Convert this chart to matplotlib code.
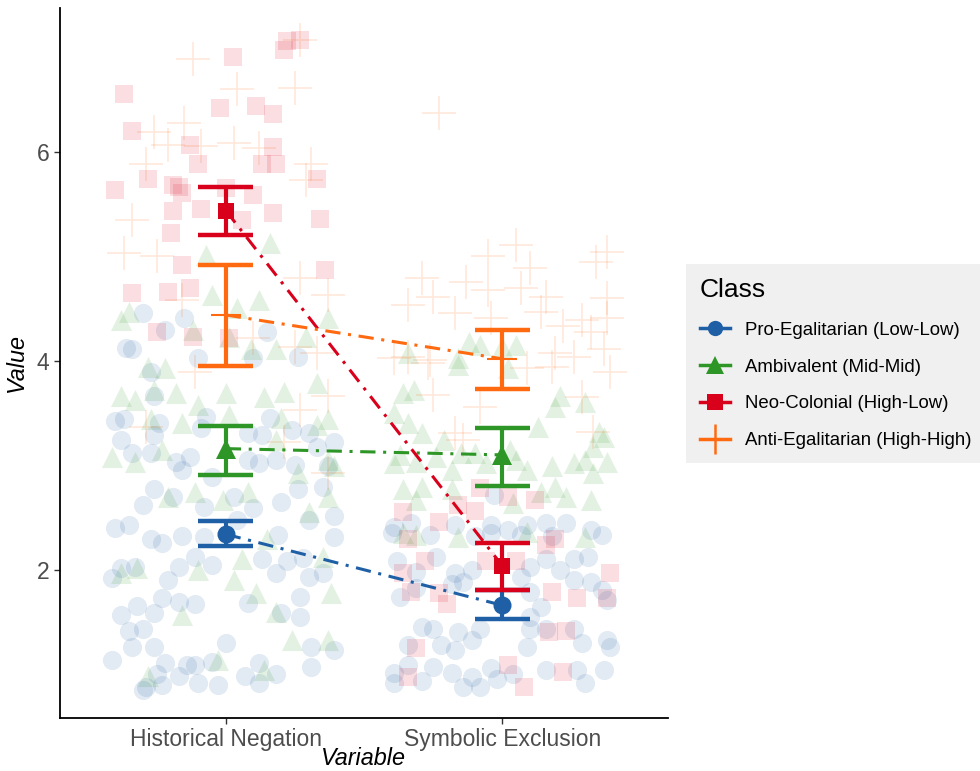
"""Class means of Historical Negation / Symbolic Exclusion over jittered raw scores."""

import matplotlib
matplotlib.use("Agg")
import matplotlib.pyplot as plt
import numpy as np
from matplotlib.lines import Line2D

plt.rcParams["font.family"] = ["Liberation Sans", "DejaVu Sans"]

# -- data ---------------------------------------------------------------------
variables = ["Historical Negation", "Symbolic Exclusion"]
classes = ["Pro-Egalitarian (Low-Low)", "Ambivalent (Mid-Mid)",
           "Neo-Colonial (High-Low)", "Anti-Egalitarian (High-High)"]

# means and error bar limits, one value per variable
pro_mean, pro_lo, pro_hi = [2.34, 1.66], [2.23, 1.53], [2.47, 1.81]
amb_mean, amb_lo, amb_hi = [3.16, 3.10], [2.91, 2.80], [3.38, 3.36]
neo_mean, neo_lo, neo_hi = [5.44, 2.04], [5.21, 1.81], [5.67, 2.26]
anti_mean, anti_lo, anti_hi = [4.44, 4.02], [3.95, 3.73], [4.92, 4.30]

# jittered raw scores: (offset from category, value)
pro_hn = [(-0.30, 4.46), (-0.15, 4.41), (-0.22, 4.30), (-0.36, 4.12), (-0.34, 4.11), (0.15, 4.28),
          (-0.10, 4.03), (0.10, 4.03), (0.26, 4.04), (-0.27, 3.89), (-0.40, 3.42), (-0.37, 3.44),
          (-0.26, 3.66), (-0.24, 3.41), (-0.38, 3.24), (-0.26, 3.29), (-0.34, 3.12), (-0.27, 3.12),
          (-0.13, 3.08), (-0.18, 3.03), (-0.16, 2.96), (-0.07, 3.46), (-0.09, 3.36), (0.16, 3.45),
          (0.08, 3.31), (0.13, 3.29), (0.24, 3.34), (0.30, 3.31), (0.39, 3.22), (0.33, 3.18),
          (0.12, 3.02), (0.18, 3.05), (0.25, 3.00), (0.37, 2.99), (0.08, 3.05), (-0.05, 2.89),
          (-0.26, 2.77), (-0.30, 2.62), (-0.19, 2.70), (-0.08, 2.60), (0.03, 2.70), (0.10, 2.59),
          (0.20, 2.65), (0.26, 2.77), (0.35, 2.79), (0.39, 2.51), (0.30, 2.48), (-0.40, 2.40),
          (-0.35, 2.43), (0.04, 2.48), (-0.27, 2.29), (-0.23, 2.26), (-0.16, 2.32), (-0.08, 2.31),
          (0.19, 2.33), (0.39, 2.31), (-0.38, 2.02), (-0.41, 1.92), (-0.33, 2.03), (-0.17, 2.03),
          (-0.11, 2.12), (-0.05, 2.05), (-0.21, 1.90), (0.13, 2.10), (0.18, 1.97), (0.22, 2.08),
          (0.30, 1.93), (0.35, 1.97), (0.28, 2.11), (-0.23, 1.73), (-0.17, 1.69), (-0.11, 1.67),
          (-0.32, 1.65), (-0.38, 1.57), (-0.26, 1.59), (0.08, 1.68), (0.20, 1.59), (0.27, 1.74),
          (0.27, 1.55), (-0.35, 1.41), (-0.30, 1.43), (-0.34, 1.26), (-0.26, 1.26), (0.00, 1.30),
          (0.31, 1.26), (0.39, 1.23), (-0.41, 1.14), (-0.22, 1.11), (-0.14, 1.09), (-0.11, 1.09),
          (-0.05, 1.12), (0.12, 1.11), (0.31, 1.07), (-0.25, 1.00), (-0.29, 0.88), (-0.23, 0.90),
          (-0.17, 0.98), (-0.10, 0.92), (-0.03, 0.90), (0.07, 0.98), (0.12, 0.92), (0.18, 1.00),
          (-0.30, 0.85)]
pro_se = [(-0.03, 2.72), (-0.39, 2.41), (-0.33, 2.45), (-0.17, 2.43), (-0.04, 2.43), (0.02, 2.38),
          (0.09, 2.43), (0.16, 2.45), (0.23, 2.45), (0.32, 2.38), (-0.40, 2.35), (-0.26, 2.33),
          (-0.10, 2.32), (-0.04, 2.35), (0.07, 2.33), (0.18, 2.32), (0.36, 2.33), (-0.38, 2.08),
          (-0.31, 1.98), (-0.24, 2.12), (-0.17, 1.97), (-0.11, 2.00), (-0.18, 1.86), (-0.14, 1.88),
          (-0.37, 1.74), (-0.31, 1.83), (0.07, 1.93), (0.10, 2.03), (0.16, 2.10), (0.21, 2.00),
          (0.26, 2.10), (0.31, 2.12), (0.26, 1.90), (0.32, 1.88), (0.36, 1.81), (0.38, 1.71),
          (0.10, 1.79), (0.14, 1.64), (0.10, 1.55), (-0.29, 1.45), (-0.25, 1.43), (-0.34, 1.28),
          (-0.22, 1.28), (-0.16, 1.40), (-0.11, 1.33), (-0.08, 1.43), (-0.17, 1.23), (0.10, 1.43),
          (0.16, 1.43), (0.26, 1.43), (0.29, 1.30), (0.09, 1.26), (0.38, 1.33), (0.39, 1.26),
          (-0.39, 1.01), (-0.34, 1.09), (-0.29, 0.93), (-0.25, 1.07), (-0.18, 1.01), (-0.11, 0.97),
          (-0.04, 1.06), (-0.02, 0.95), (0.04, 1.00), (0.16, 1.04), (0.27, 1.04), (0.37, 1.04),
          (0.30, 0.92), (-0.39, 0.92), (-0.08, 0.88), (-0.14, 0.88)]
amb_hn = [(0.16, 5.13), (-0.07, 5.01), (0.12, 4.58), (-0.05, 4.63), (0.04, 4.51), (-0.35, 4.47),
          (-0.38, 4.39), (-0.12, 4.30), (0.37, 4.41), (0.29, 4.23), (0.18, 4.11), (0.09, 4.11),
          (0.01, 4.23), (-0.28, 3.94), (-0.22, 3.93), (-0.38, 3.66), (-0.33, 3.63), (-0.26, 3.72),
          (-0.18, 3.69), (0.00, 3.69), (0.14, 3.65), (0.21, 3.70), (0.33, 3.79), (-0.10, 3.58),
          (-0.27, 3.44), (-0.16, 3.41), (0.01, 3.48), (0.20, 3.45), (0.33, 3.39), (0.37, 3.44),
          (-0.41, 3.08), (-0.33, 3.03), (-0.23, 3.15), (0.18, 3.24), (0.26, 2.93), (0.37, 3.05),
          (0.39, 2.99), (-0.11, 2.74), (-0.01, 2.67), (-0.21, 2.70), (0.08, 2.74), (0.37, 2.70),
          (0.30, 2.55), (-0.32, 2.02), (-0.38, 1.97), (0.06, 2.10), (-0.10, 2.00), (0.03, 1.90),
          (0.11, 1.78), (0.18, 1.60), (-0.16, 1.57), (0.38, 1.78), (0.35, 2.12), (0.24, 1.33),
          (0.37, 1.33), (-0.03, 1.14), (0.14, 1.04), (-0.28, 0.98), (0.15, 2.29)]
amb_se = [(-0.34, 4.08), (-0.12, 4.18), (-0.08, 4.15), (0.05, 4.15), (0.00, 4.13), (-0.16, 4.03),
          (-0.16, 3.96), (0.02, 3.93), (-0.36, 3.69), (-0.32, 3.72), (-0.39, 3.50), (-0.34, 3.41),
          (-0.29, 3.31), (-0.21, 3.24), (-0.37, 3.10), (-0.39, 3.02), (-0.31, 3.03), (-0.24, 3.08),
          (-0.15, 3.12), (-0.10, 3.12), (-0.18, 2.96), (-0.06, 3.02), (-0.36, 2.77), (-0.29, 2.79),
          (-0.31, 2.67), (-0.18, 2.77), (0.03, 3.15), (0.05, 3.05), (0.13, 3.37), (0.09, 2.96),
          (0.18, 2.99), (0.19, 2.79), (0.21, 3.66), (0.19, 3.56), (0.30, 3.61), (0.35, 3.32),
          (0.37, 3.27), (0.26, 3.02), (0.30, 3.05), (0.38, 3.03), (0.33, 2.93), (0.23, 2.70),
          (0.32, 2.67), (0.04, 2.64), (0.33, 3.18), (0.14, 2.74), (-0.36, 2.35), (-0.31, 2.33),
          (-0.16, 2.31), (0.09, 2.36), (0.30, 2.31)]
neo_hn = [(0.025, 6.91), (0.22, 7.06), (0.27, 7.07), (0.21, 6.98), (-0.37, 6.56), (-0.02, 6.42),
          (0.11, 6.44), (0.17, 6.36), (-0.34, 6.20), (-0.13, 6.07), (-0.10, 5.89), (0.17, 6.05),
          (0.13, 5.89), (0.18, 5.89), (0.33, 5.74), (-0.28, 5.74), (-0.19, 5.68), (-0.17, 5.67),
          (-0.40, 5.64), (0.00, 5.66), (-0.16, 5.61), (0.10, 5.59), (-0.19, 5.44), (-0.09, 5.45),
          (0.06, 5.35), (0.17, 5.42), (0.34, 5.36), (-0.20, 5.22), (-0.16, 4.92), (0.36, 4.87),
          (-0.34, 4.65), (-0.21, 4.66), (-0.13, 4.70), (-0.25, 4.28), (-0.12, 4.23), (0.01, 4.22)]
neo_se = [(-0.08, 2.78), (0.02, 2.70), (0.12, 2.67), (-0.36, 2.55), (-0.23, 2.46), (-0.16, 2.62),
          (-0.10, 2.56), (-0.34, 2.29), (-0.28, 2.08), (-0.36, 1.97), (-0.33, 1.79), (-0.23, 1.78),
          (-0.20, 1.67), (-0.06, 2.08), (0.05, 2.08), (0.16, 2.24), (0.19, 2.29), (0.39, 1.97),
          (0.27, 1.73), (0.18, 1.79), (0.38, 1.73), (-0.31, 1.25), (-0.34, 0.97), (0.02, 1.09),
          (0.08, 0.88), (0.22, 1.02), (0.17, 1.40), (0.23, 1.41)]
anti_hn = [(-0.12, 6.89), (0.04, 6.60), (0.25, 6.61), (0.27, 7.07), (-0.15, 6.28), (-0.26, 6.19),
           (-0.21, 6.07), (-0.09, 6.06), (0.03, 6.09), (0.12, 6.04), (-0.29, 5.89), (0.31, 5.89),
           (0.29, 5.73), (-0.34, 5.35), (-0.37, 5.03), (-0.25, 5.00), (0.27, 4.79), (0.37, 4.63),
           (-0.16, 4.58), (0.10, 4.22), (0.25, 4.13), (0.33, 4.08), (-0.11, 3.89), (0.27, 3.53),
           (0.37, 3.66), (-0.29, 3.37), (0.21, 3.22), (0.37, 2.93)]
anti_se = [(-0.23, 6.37), (0.05, 5.11), (-0.05, 5.00), (0.10, 4.89), (-0.29, 4.79), (-0.13, 4.76),
           (-0.05, 4.68), (-0.25, 4.61), (0.07, 4.70), (0.16, 4.61), (0.38, 5.04), (0.34, 4.95),
           (0.38, 4.60), (-0.34, 4.54), (-0.17, 4.46), (0.14, 4.47), (-0.04, 4.41), (0.29, 4.39),
           (0.38, 4.41), (0.22, 4.33), (0.32, 4.28), (0.37, 4.11), (0.26, 4.04), (0.19, 4.08),
           (-0.34, 4.04), (-0.39, 4.03), (-0.26, 4.01), (-0.27, 3.98), (-0.08, 3.56), (-0.25, 3.67),
           (0.29, 3.65), (0.39, 3.89), (0.18, 3.94), (0.09, 3.93), (-0.17, 3.31), (0.33, 3.32),
           (-0.14, 3.24)]

# -- style --------------------------------------------------------------------
BLUE, GREEN, RED, ORANGE = "#1f5fa6", "#2e9626", "#d9001b", "#ff6a10"

groups = [  # colour, marker, mean size, raw points, means, lo, hi
    (BLUE, "o", 13, (pro_hn, pro_se), pro_mean, pro_lo, pro_hi),
    (GREEN, "^", 15, (amb_hn, amb_se), amb_mean, amb_lo, amb_hi),
    (RED, "s", 12, (neo_hn, neo_se), neo_mean, neo_lo, neo_hi),
    (ORANGE, "+", 22, (anti_hn, anti_se), anti_mean, anti_lo, anti_hi),
]

fig = plt.figure(figsize=(9.8, 7.71), dpi=100)
ax = fig.add_axes([0.0612, 0.0687, 0.6204, 0.921])

x = np.arange(1, len(variables) + 1)

# raw scores in the background
for color, marker, _, raw, *_ in groups:
    for xi, pts in zip(x, raw):
        p = np.array(pts)
        if marker == "+":
            ax.scatter(xi + p[:, 0], p[:, 1], marker="+", s=600, lw=1.3,
                       color=color, alpha=0.14, zorder=1)
        else:
            size = {"o": 190, "^": 230, "s": 170}[marker]
            ax.scatter(xi + p[:, 0], p[:, 1], marker=marker, s=size,
                       color=color, alpha=0.13, lw=0, zorder=1)

# connecting lines, error bars, means
for color, marker, msize, _, mean, lo, hi in groups:
    ax.plot(x, mean, color=color, lw=2.2, ls=(0, (5, 2.5, 1, 2.5)), zorder=3)
    for xi, l, h in zip(x, lo, hi):
        ax.plot([xi, xi], [l, h], color=color, lw=3, zorder=4, solid_capstyle="butt")
        ax.plot([xi - 0.1, xi + 0.1], [l, l], color=color, lw=3.2, zorder=4, solid_capstyle="butt")
        ax.plot([xi - 0.1, xi + 0.1], [h, h], color=color, lw=3.2, zorder=4, solid_capstyle="butt")
    mew = 1.5 if marker == "+" else 0
    ax.plot(x, mean, ls="none", marker=marker, ms=msize, mew=mew,
            color=color, zorder=5)

ax.set_xlim(0.4, 2.6)
ax.set_ylim(0.58, 7.38)
ax.set_xticks(x)
ax.set_xticklabels(variables)
ax.set_yticks([2, 4, 6])
ax.tick_params(labelsize=16.5, labelcolor="#4d4d4d", color="#333333", length=4, width=1)
for side in ("top", "right"):
    ax.spines[side].set_visible(False)
for side in ("left", "bottom"):
    ax.spines[side].set_linewidth(1.3)
    ax.spines[side].set_color("black")
ax.set_xlabel("Variable", fontsize=16.8, style="italic", labelpad=-3)
ax.set_ylabel("Value", fontsize=16.8, style="italic", labelpad=6)

handles = []
for (color, marker, msize, *_), label in zip(groups, classes):
    ms = {"o": 11, "^": 13, "s": 11, "+": 22}[marker]
    handles.append(Line2D([0], [0], color=color, lw=2.5, marker=marker, ms=ms,
                          mew=1.8 if marker == "+" else 0, label=label))
leg = fig.legend(handles=handles, title="Class", loc="center left",
                 bbox_to_anchor=(0.700, 0.5285), fontsize=13.4, title_fontsize=19,
                 frameon=True, fancybox=False, facecolor="#f0f0f0", edgecolor="none",
                 handlelength=1.6, labelspacing=1.07, borderpad=0.75, borderaxespad=0,
                 handletextpad=0.8)
leg.get_frame().set_alpha(1)
leg._legend_box.align = "left"

fig.savefig("out.png", dpi=100)
